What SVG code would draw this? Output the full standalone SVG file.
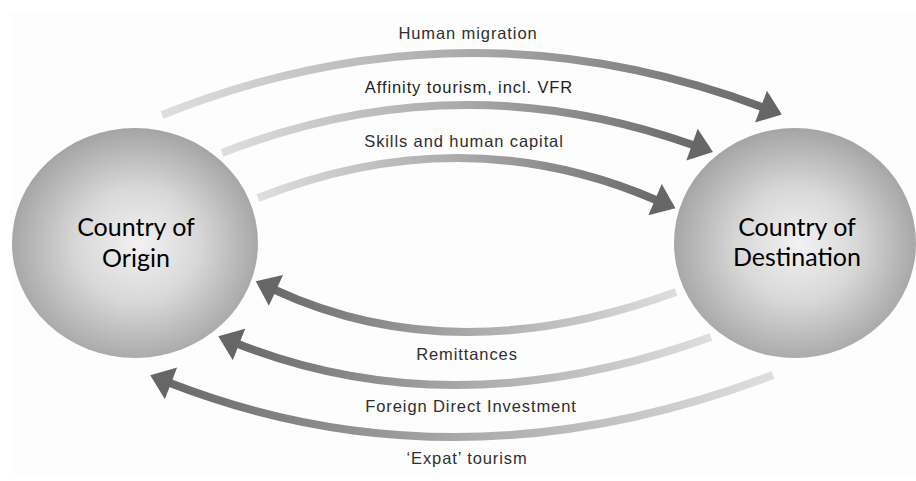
<svg xmlns="http://www.w3.org/2000/svg" width="916" height="481" viewBox="0 0 916 481">
  <style>
    .node-label { font-family: Lato, "Open Sans", sans-serif; font-size: 25px; fill: #000; text-anchor: middle; }
    .flow-label { font-family: "Liberation Sans", Arial, sans-serif; font-size: 16.5px; letter-spacing: 0.9px; fill: #2f2f2f; text-anchor: middle; }
    .flow { fill: none; stroke-width: 8; }
    .out { stroke: url(#gradOut); marker-end: url(#head); }
    .back { stroke: url(#gradBack); marker-end: url(#head); }
  </style>
  <defs>
    <radialGradient id="sphere" cx="50%" cy="52%" r="55%" fx="52%" fy="50%">
      <stop offset="0" stop-color="#f2f2f2"/>
      <stop offset="0.45" stop-color="#d8d8d8"/>
      <stop offset="1" stop-color="#9e9e9e"/>
    </radialGradient>
    <linearGradient id="gradOut" x1="0" y1="0" x2="1" y2="0">
      <stop offset="0" stop-color="#dedede"/>
      <stop offset="0.5" stop-color="#ababab"/>
      <stop offset="1" stop-color="#6a6a6a"/>
    </linearGradient>
    <linearGradient id="gradBack" x1="0" y1="0" x2="1" y2="0">
      <stop offset="0" stop-color="#6a6a6a"/>
      <stop offset="0.5" stop-color="#ababab"/>
      <stop offset="1" stop-color="#dedede"/>
    </linearGradient>
    <marker id="head" markerUnits="userSpaceOnUse" markerWidth="24" markerHeight="36" viewBox="0 -17 22 34" refX="1" refY="0" orient="auto">
      <path d="M0,-16 L21,0 L0,16 Z" fill="#666"/>
    </marker>
  </defs>

  <rect x="10" y="13" width="906" height="465" fill="#fdfdfd"/>

  <g id="connectors">
    <path class="flow out" d="M162,115 Q462,-5 762,107"/>
    <path class="flow out" d="M222,153 Q456,61 693,145"/>
    <path class="flow out" d="M258,198 Q463,117 656,200"/>
    <path class="flow back" d="M676,292 Q455,373 275,290"/>
    <path class="flow back" d="M711,337 Q455,429.5 238,344"/>
    <path class="flow back" d="M773,375 Q458,495 170,383"/>
  </g>

  <g id="node-origin">
    <ellipse cx="135" cy="243" rx="123" ry="115" fill="url(#sphere)"/>
    <text class="node-label" x="136" y="236">Country of</text>
    <text class="node-label" x="136" y="267">Origin</text>
  </g>

  <g id="node-destination">
    <ellipse cx="795" cy="243" rx="121" ry="115" fill="url(#sphere)"/>
    <text class="node-label" x="797" y="236">Country of</text>
    <text class="node-label" x="797" y="266">Destination</text>
  </g>

  <g id="labels">
    <text class="flow-label" x="468" y="39">Human migration</text>
    <text class="flow-label" x="469" y="93" style="fill:#1e1e1e">Affinity tourism, incl. VFR</text>
    <text class="flow-label" x="464" y="147">Skills and human capital</text>
    <text class="flow-label" x="467" y="360">Remittances</text>
    <text class="flow-label" x="471" y="412">Foreign Direct Investment</text>
    <text class="flow-label" x="467" y="464">‘Expat’ tourism</text>
  </g>
</svg>
